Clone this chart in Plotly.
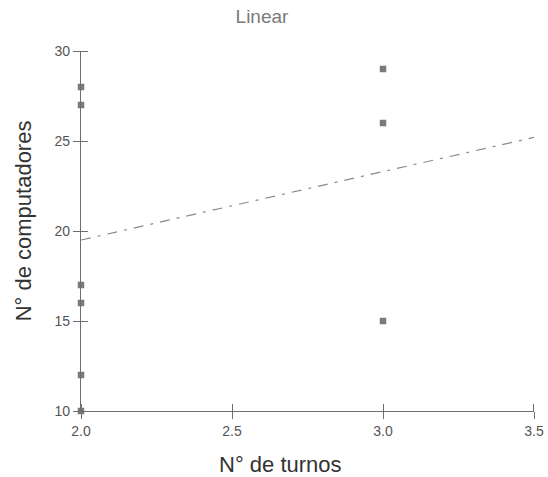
import plotly.graph_objects as go

# Data
turnos = [2, 2, 2, 2, 2, 2, 3, 3, 3]
computadores = [28, 27, 17, 16, 12, 10, 29, 26, 15]
fit_x = [2.0, 3.5]
fit_y = [19.5, 25.2]
x_ticks = [2.0, 2.5, 3.0, 3.5]
x_tick_labels = ["2.0", "2.5", "3.0", "3.5"]
y_ticks = [10, 15, 20, 25, 30]
y_tick_labels = ["10", "15", "20", "25", "30"]

AX = "#6e6e6e"
FONT = "Liberation Sans, Arial, sans-serif"
EPS = 1e-4  # minor ticks nudged off the majors so they are drawn on the inner side

fig = go.Figure()
fig.add_trace(go.Scatter(
    x=fit_x, y=fit_y, mode="lines",
    line=dict(color="#8a8a8a", width=1.2, dash="10px,7px,3px,7px"),
    hoverinfo="skip", showlegend=False, cliponaxis=False,
))
fig.add_trace(go.Scatter(
    x=turnos, y=computadores, mode="markers",
    marker=dict(symbol="square", size=6.5, color="#7a7a7a", line=dict(width=0)),
    showlegend=False, cliponaxis=False,
))

axis_common = dict(
    showgrid=False, zeroline=False, showline=True, linecolor=AX, linewidth=1.3,
    tickcolor=AX, tickwidth=1, ticklen=7, automargin=False, ticks="outside",
    tickfont=dict(size=14, color="#555555", family=FONT),
)

fig.update_layout(
    template="none",
    width=548, height=477,
    margin=dict(l=81, r=14, t=51, b=66, autoexpand=False),
    paper_bgcolor="white", plot_bgcolor="white",
    font=dict(family=FONT, color="#555555"),
    title=dict(text="Linear", x=262 / 548, xanchor="center", y=1 - 16 / 477, yanchor="middle",
               font=dict(size=19, color="#7a7a7a", family=FONT)),
    xaxis=dict(range=[2.0, 3.5], tickvals=x_ticks, ticktext=x_tick_labels,
               minor=dict(ticks="inside", tickvals=[v + EPS for v in x_ticks[:-1]] + [x_ticks[-1] - EPS],
                          ticklen=7, tickwidth=1, tickcolor=AX, showgrid=False),
               **axis_common),
    yaxis=dict(range=[10, 30], tickvals=y_ticks, ticktext=y_tick_labels,
               minor=dict(ticks="inside", tickvals=[v + EPS for v in y_ticks[:-1]] + [y_ticks[-1] - EPS],
                          ticklen=7, tickwidth=1, tickcolor=AX, showgrid=False),
               **axis_common),
    annotations=[
        dict(text="N° de turnos", xref="paper", yref="paper", x=0.4415, y=-0.15,
             xanchor="center", yanchor="middle", showarrow=False,
             font=dict(size=22, color="#333333", family=FONT)),
        dict(text="N° de computadores", xref="paper", yref="paper", x=-0.125, y=0.5278,
             xanchor="center", yanchor="middle", showarrow=False, textangle=-90,
             font=dict(size=22, color="#333333", family=FONT)),
    ],
)

fig.write_html("out.html", config={"displayModeBar": False},
               post_script="document.body.style.margin='0';")
